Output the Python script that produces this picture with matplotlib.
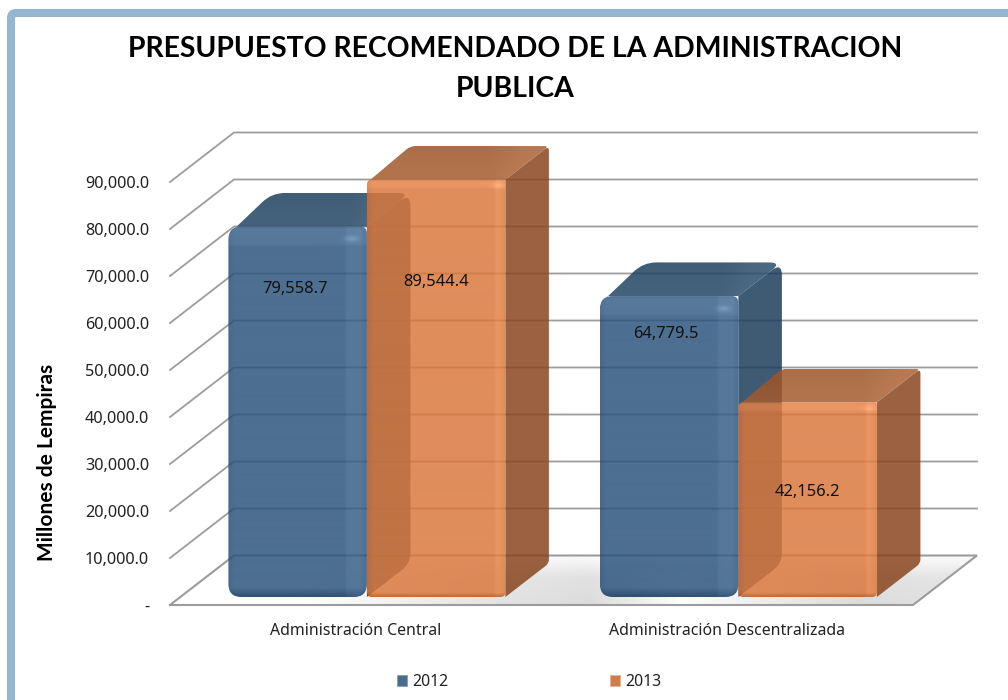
import matplotlib
matplotlib.use('Agg')
import matplotlib.pyplot as plt
import numpy as np
from matplotlib.patches import FancyBboxPatch, Patch, PathPatch
from matplotlib.path import Path

categories = ['Administración Central', 'Administración Descentralizada']
years = ['2012', '2013']
values_2012 = [79558.7, 64779.5]
values_2013 = [89544.4, 42156.2]
y_ticks = [0, 10000, 20000, 30000, 40000, 50000, 60000, 70000, 80000, 90000]

title = 'PRESUPUESTO RECOMENDADO DE LA ADMINISTRACION\nPUBLICA'
y_label = 'Millones de Lempiras'

W, H = 1008, 700
PX_X = 371.5  # pixels per category
PX_Y = 0.0047  # pixels per lempira unit
DEPTH_X = 64 / PX_X
DEPTH_Y = 49.5 / PX_Y
BAR_W = 138.5 / PX_X
ALPHA = 0.85

plt.rcParams['font.family'] = ['Noto Sans', 'DejaVu Sans']

fig = plt.figure(figsize=(W / 100, H / 100), dpi=100, facecolor='white')

# frame
bg = fig.add_axes([0, 0, 1, 1], zorder=0)
bg.set_xlim(0, W)
bg.set_ylim(H, 0)
bg.axis('off')
bg.add_patch(FancyBboxPatch((11, 13), 1100, 800, boxstyle='round,pad=0,rounding_size=5',
                            fc='white', ec='#94b6d2', lw=5.8))

ax = fig.add_axes([170 / W, (H - 605) / H, 743 / W, 423 / H], zorder=1)
ax.patch.set_visible(False)
for s in ax.spines.values():
    s.set_visible(False)


def rounded(pts, radii):
    # polygon in data units with corners rounded by a radius in pixels
    scale = np.array([PX_X, PX_Y])
    pts = np.array(pts, dtype=float) * scale
    verts, codes = [], []
    n = len(pts)
    for i in range(n):
        p, a, b = pts[i], pts[i - 1], pts[(i + 1) % n]
        r = radii[i]
        start = p + (a - p) / np.linalg.norm(a - p) * r
        end = p + (b - p) / np.linalg.norm(b - p) * r
        verts += [start, p, end]
        codes += [Path.MOVETO if i == 0 else Path.LINETO, Path.CURVE3, Path.CURVE3]
    verts.append(verts[0])
    codes.append(Path.CLOSEPOLY)
    return Path(np.array(verts) / scale, codes)


def put_image(rgba, path, z):
    ext = path.get_extents()
    im = ax.imshow(rgba, extent=(ext.x0, ext.x1, ext.y0, ext.y1), aspect='auto',
                   zorder=z, interpolation='bilinear')
    # images get cut at the axes box otherwise, the depth part sticks out of it
    im.set_clip_box(fig.bbox)
    im.set_clip_path(path, transform=ax.transData)


def to_rgba(rgb, shade, alpha=ALPHA):
    arr = np.clip(np.array(rgb, dtype=float)[None, None, :] + shade[:, :, None], 0, 255) / 255
    return np.dstack([arr, np.full(shade.shape, alpha)])


def front_face(rgb, w, h, bevel, hl):
    shade = np.zeros((h, w))
    xs = np.arange(w)
    ys = np.arange(h)
    shade += np.interp(xs, [0, 6, w - bevel - 3, w - bevel, w - 8, w - 1], [-8, 0, 0, 9, 11, 0])[None, :]
    shade += np.interp(ys, [0, 3, bevel - 3, bevel, h - bevel * 0.5, h - 1],
                       [4, 12, 10, 0, 0, -34])[:, None]
    yy, xx = np.mgrid[0:h, 0:w]
    shade += hl * np.exp(-(((xx - (w - bevel * 0.8)) / 7.0) ** 2 + ((yy - bevel * 0.6) / 3.0) ** 2))
    return to_rgba(rgb, shade)


def top_face(rgb, w):
    shade = np.interp(np.arange(w), [0, w * 0.68, w * 0.85, w - 1], [0, 0, 10, 14])[None, :]
    shade = np.repeat(shade, 20, axis=0)
    shade += np.linspace(-4, 4, 20)[:, None]
    return to_rgba(rgb, shade)


# floor with soft shadow
floor_pts = [(0, 0), (2, 0), (2 + DEPTH_X, DEPTH_Y), (DEPTH_X, DEPTH_Y)]
floor_path = Path(floor_pts + [floor_pts[0]], closed=True)
fx = np.linspace(0, 2 + DEPTH_X, 400)
shadow = np.interp(fx * PX_X, [130, 330, 420, 510, 690, 807], [0, 0.8, 1, 0.05, 1, 0.8])
falloff = np.outer(np.interp(np.linspace(0, 1, 50), [0, 0.45, 1], [0.1, 0.85, 1]), np.ones(400))
floor_rgb = np.full((50, 400, 3), 0.86)
put_image(np.dstack([floor_rgb, shadow[None, :] * falloff]), floor_path, 1)
ax.plot([p[0] for p in floor_pts] + [0], [p[1] for p in floor_pts] + [0],
        color='#9c9c9c', lw=1.5, clip_on=False, zorder=2, solid_joinstyle='miter')

# walls
for t in y_ticks[1:]:
    ax.plot([0, DEPTH_X, 2 + DEPTH_X], [t, t + DEPTH_Y, t + DEPTH_Y],
            color='#9c9c9c', lw=1.3, clip_on=False, zorder=2)

# bars, blue first then orange so the orange one shows the blue through it
series = [
    (values_2012, (45, 85, 125), (29, 61, 90), (33, 68, 98), -1, 13, 20, 30),
    (values_2013, (218, 120, 61), (136, 70, 30), (162, 88, 42), 0, 5, 10, 18),
]
bar_floor = 1700
shift = 0.03
z = 3
for cat in range(len(categories)):
    for vals, c_front, c_side, c_top, side, rad, bevel, hl in series:
        v = vals[cat]
        x0 = cat + 0.5 + shift + side * BAR_W
        x1 = x0 + BAR_W
        dx, dy = DEPTH_X * 0.68, DEPTH_Y * 0.68
        base = DEPTH_Y * 0.09

        top = v + base
        bottom = bar_floor
        rx, ry = rad * 0.6 / PX_X, rad * 0.6 / PX_Y

        side_path = rounded([(x1, top), (x1 + dx, top + dy), (x1 + dx, bottom + dy), (x1, bottom)],
                            [0, rad, rad * 0.8, 0])
        ax.add_patch(PathPatch(side_path, fc=np.array(c_side) / 255, ec='none', alpha=ALPHA,
                               zorder=z, clip_on=False))
        top_path = rounded([(x0, top - ry), (x0 + dx, top + dy), (x1 + dx, top + dy), (x1, top), (x0 + rx, top)],
                           [2, rad, rad, 0, 0])
        put_image(top_face(c_top, 120), top_path, z + 0.1)
        front_path = rounded([(x0, bottom), (x0, top), (x1, top), (x1, bottom)],
                             [rad, rad, rad * 0.5, rad])
        hpx = int((top - bottom) * PX_Y)
        put_image(front_face(c_front, 139, hpx, bevel, hl), front_path, z + 0.2)
        z += 1

# value labels, placed by hand like in the original
label_frac = [[0.845, 0.768], [0.89, 0.57]]
label_dx = [-3 / PX_X, 0]
for cat in range(len(categories)):
    for s_i, vals in enumerate([values_2012, values_2013]):
        xc = cat + 0.5 + shift + (s_i - 1) * BAR_W + BAR_W / 2 + label_dx[s_i]
        ax.text(xc, vals[cat] * label_frac[cat][s_i], f'{vals[cat]:,.1f}', ha='center', va='center',
                fontsize=11.9, color='#111111', zorder=20)

ax.set_xlim(0, 2)
ax.set_ylim(0, 90000)
ax.set_yticks(y_ticks)
ax.set_yticklabels(['-' if t == 0 else f'{t:,.1f}' for t in y_ticks], fontsize=11.7, color='#222222')
ax.set_xticks([0.5, 1.5])
ax.set_xticklabels(categories, fontsize=11.4, color='#222222')
ax.tick_params(axis='y', length=0, pad=15)
ax.tick_params(axis='x', length=0, pad=13)

ax.set_ylabel(y_label, fontsize=15, fontweight='bold', color='black', family=['Lato', 'DejaVu Sans'])
ax.yaxis.set_label_coords((57 - 170) / 743, (605 - 462) / 423)

fig.text(515 / W, 1 - 69 / H, title, ha='center', va='center', fontsize=20.4,
         fontweight='bold', family=['Lato', 'DejaVu Sans'], linespacing=1.62, color='black')

handles = [Patch(fc='#4a6d8e', ec='#7f98af', lw=0.5), Patch(fc='#d07f4c', ec='#e0b090', lw=0.5)]
ax.legend(handles, years, loc='center', bbox_to_anchor=((529 - 170) / 743, (605 - 682) / 423),
          ncol=2, frameon=False, fontsize=11.4, handlelength=0.66, handleheight=0.72,
          handletextpad=0.3, columnspacing=10.2, labelcolor='#222222')

fig.savefig('out.png', dpi=100)
